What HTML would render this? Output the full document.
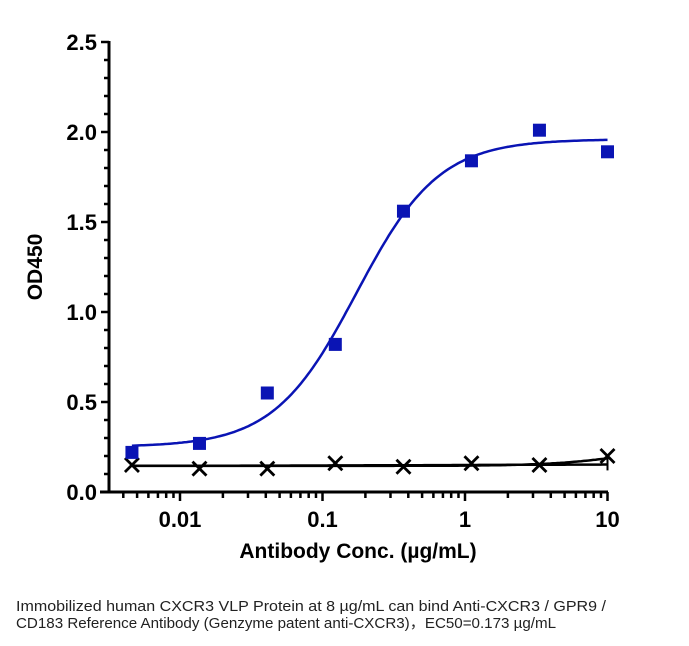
<!DOCTYPE html>
<html><head><meta charset="utf-8"><style>
body{margin:0;background:#fff;}
svg text{font-family:"Liberation Sans",Arial,sans-serif;}
</style></head><body>
<svg width="689" height="641" xmlns="http://www.w3.org/2000/svg">
<g id="axes"></g><g id="marks"></g>
<text x="42" y="267" transform="rotate(-90 42 267)" text-anchor="middle" font-size="21" font-weight="bold">OD450</text>
<text x="358" y="558" text-anchor="middle" font-size="21" font-weight="bold">Antibody Conc. (µg/mL)</text>
<text x="16" y="611" font-size="14.5" fill="#222" style="font-family:'Liberation Sans Narrow','Liberation Sans',sans-serif" textLength="590" lengthAdjust="spacingAndGlyphs">Immobilized human CXCR3 VLP Protein at 8 µg/mL can bind  Anti-CXCR3 / GPR9 /</text>
<text x="16" y="628" font-size="14.5" fill="#222" style="font-family:'Liberation Sans Narrow','Liberation Sans',sans-serif" textLength="540" lengthAdjust="spacingAndGlyphs">CD183 Reference Antibody (Genzyme patent anti-CXCR3)，EC50=0.173 µg/mL</text>
</svg>
<script>
const conc=[0.0046,0.0137,0.041,0.123,0.37,1.11,3.33,10];
const antibody=[0.22,0.27,0.55,0.82,1.56,1.84,2.01,1.89];
const control=[0.15,0.13,0.13,0.16,0.14,0.16,0.15,0.20];
const yTicks=[0,0.5,1.0,1.5,2.0,2.5];
const yTickLabels=["0.0","0.5","1.0","1.5","2.0","2.5"];
const xTicks=[0.01,0.1,1,10];
const xTickLabels=["0.01","0.1","1","10"];
const fitAb=[0.25,1.96,0.173,1.5];
const fitCtrl=[0.145,0.26,14,1.6];
const fitFlat=[0.145,0.155,1,0.5];
const NS='http://www.w3.org/2000/svg';
const X=v=>465+142.5*Math.log10(v);
const Y=v=>492-180*v;
const ax=document.getElementById('axes'),mk=document.getElementById('marks');
function el(t,a,p){const e=document.createElementNS(NS,t);for(const k in a)e.setAttribute(k,a[k]);p.appendChild(e);return e;}
let e=el('line',{x1:109,y1:41,x2:109,y2:493,stroke:'#000','stroke-width':3},ax);

e=el('line',{x1:100,y1:492,x2:608,y2:492,stroke:'#000','stroke-width':3},ax);

for(let i=0;i<=25;i++){const v=i/10;const major=i%5==0;
 el('line',{x1:major?101:104,x2:109,y1:Y(v),y2:Y(v),stroke:'#000','stroke-width':2.5},ax);}
yTicks.forEach((v,i)=>{const t=el('text',{x:97,y:Y(v)+8,'text-anchor':'end','font-size':22,'font-weight':'bold'},ax);t.textContent=yTickLabels[i];
 });
for(let d=-3;d<1;d++)for(let m=1;m<10;m++){const v=m*Math.pow(10,d);const x=X(v);if(x<120||x>608)continue;
 el('line',{x1:x,x2:x,y1:492,y2:m==1?501:498,stroke:'#000','stroke-width':2.5},ax);}
el('line',{x1:X(10),x2:X(10),y1:492,y2:501,stroke:'#000','stroke-width':2.5},ax);
xTicks.forEach((v,i)=>{const t=el('text',{x:X(v),y:527,'text-anchor':'middle','font-size':22,'font-weight':'bold'},ax);t.textContent=xTickLabels[i];
 });
function curve(p,color,w,name){const[b,t,c,h]=p;let d='';for(let i=0;i<=200;i++){const lx=Math.log10(0.0046)+i/200*(1-Math.log10(0.0046));const v=Math.pow(10,lx);
 const y=b+(t-b)/(1+Math.pow(c/v,h));d+=(i?'L':'M')+X(v).toFixed(1)+','+Y(y).toFixed(1);}
 const e=el('path',{d:d,fill:'none',stroke:color,'stroke-width':w},mk);}
curve(fitFlat,'#000',2.5,'isotype-fit-curve');
curve(fitCtrl,'#000',2.5,'control-fit-curve');
curve(fitAb,'#0a14b4',2.5,'antibody-fit-curve');
el('line',{x1:X(10),x2:X(10),y1:Y(0.12),y2:Y(0.19),stroke:'#000','stroke-width':2},mk);
conc.forEach((c,i)=>{const x=X(c),y=Y(control[i]);
 const p=el('path',{d:`M${x-7},${y-7}L${x+7},${y+7}M${x-7},${y+7}L${x+7},${y-7}`,stroke:'#000','stroke-width':2.8},mk);
 });
conc.forEach((c,i)=>{const r=el('rect',{x:X(c)-6.5,y:Y(antibody[i])-6.5,width:13,height:13,fill:'#0a14b4'},mk);
 });
</script>
</body></html>
